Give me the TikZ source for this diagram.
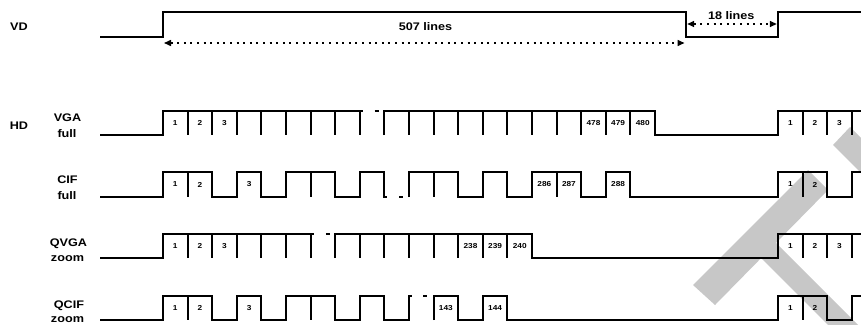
\documentclass[tikz,border=0pt]{standalone}
\usepackage{fontspec}
\setmainfont{Liberation Sans}[FakeStretch=1.15]
\usetikzlibrary{arrows.meta}
\begin{document}
\begin{tikzpicture}[x=1pt,y=-1pt,
  sig/.style={line width=2pt, line join=miter},
  wm/.style={fill=black!22, draw=none},
  lab/.style={font=\fontsize{11}{12}\selectfont\bfseries, anchor=base, inner sep=0pt},
  num/.style={font=\fontsize{7.2}{8}\selectfont\bfseries, inner sep=0pt},
  dimline/.style={line width=1.5pt, dash pattern=on 2pt off 4.6pt,
    {Triangle[length=7pt,width=6pt]}-{Triangle[length=7pt,width=6pt]}}]
\useasboundingbox (0,0) rectangle (861,324);
\clip (0,0) rectangle (861,324);
% watermark
\fill[wm] (693,285) -- (715,305) -- (828,190) -- (808,170) -- cycle;
\fill[wm] (833,145) -- (850,127) -- (870,147) -- (870,182) -- cycle;
\fill[wm] (750,247) -- (765,232) -- (863,330) -- (833,330) -- cycle;

% signal names
\node[lab] (vd) at (19,30.5) {VD};
\node[lab] (hd) at (19,129.5) {HD};
\node[lab] (vga1) at (67.5,121.7) {VGA};
\node[lab] (vga2) at (67,137.3) {full};
\node[lab] (cif1) at (67.5,183.3) {CIF};
\node[lab] (cif2) at (67,199) {full};
\node[lab] (qvga1) at (68.5,246) {QVGA};
\node[lab] (qvga2) at (67.5,261.5) {zoom};
\node[lab] (qcif1) at (69,308) {QCIF};
\node[lab] (qcif2) at (67.5,322.6) {zoom};

% VD
\draw[sig] (100,37) -- (163,37) -- (163,12) -- (686,12) -- (686,37) -- (778,37) -- (778,12) -- (861,12);
\coordinate (d1l) at (164,43);
\coordinate (d1r) at (684.5,43);
\draw[dimline] (d1l) -- (d1r);
\node[lab, anchor=center] (l507) at (425.5,26.5) {507 lines};
\coordinate (d2l) at (687.2,24);
\coordinate (d2r) at (776.8,24);
\draw[dimline] (d2l) -- (d2r);
\node[lab, anchor=center] (l18) at (731.3,15.3) {18 lines};

% VGA full
\draw[sig] (100,135) -- (163,135) -- (163,111) -- (362.8,111);
\foreach \x in {187.6,212.2,236.8,261.4,286,310.6,335.2,359.8}
  \draw[sig] (\x,111) -- (\x,135);
\draw[sig] (374.5,111) -- (379,111);
\draw[sig] (384.4,135) -- (384.4,111) -- (655,111) -- (655,135) -- (778,135) -- (778,111) -- (861,111);
\foreach \x in {409,433.6,458.2,482.8,507.4,532,556.6,581.2,605.8,630.4,802.6,827.2,851.8}
  \draw[sig] (\x,111) -- (\x,135);
\foreach \x/\t [count=\k] in {175.3/1,199.9/2,224.5/3,593.5/478,618.1/479,642.7/480,790.3/1,814.9/2,839.5/3}
  \node[num] (vgan\k) at (\x,123) {\t};

% CIF full
\draw[sig] (100,197) -- (163,197) -- (163,172) -- (212.2,172) -- (212.2,197) -- (236.8,197) -- (236.8,172)
  -- (261.4,172) -- (261.4,197) -- (286,197) -- (286,172) -- (335.2,172) -- (335.2,197) -- (359.8,197)
  -- (359.8,172) -- (384.4,172) -- (384.4,197) -- (386.6,197);
\draw[sig] (399,197) -- (403,197);
\draw[sig] (409,197) -- (409,172) -- (458.2,172) -- (458.2,197) -- (482.8,197) -- (482.8,172) -- (507.4,172)
  -- (507.4,197) -- (532,197) -- (532,172) -- (581.2,172) -- (581.2,197) -- (605.8,197) -- (605.8,172)
  -- (630.4,172) -- (630.4,197) -- (778,197) -- (778,172) -- (827.2,172) -- (827.2,197) -- (851.8,197)
  -- (851.8,172) -- (861,172);
\foreach \x in {187.6,310.6,433.6,556.6,802.6}
  \draw[sig] (\x,172) -- (\x,197);
\foreach \x/\t [count=\k] in {175.3/1,199.9/2,249.1/3,544.3/286,568.9/287,618.1/288,790.3/1,814.9/2}
  \node[num] (cifn\k) at (\x,184.5) {\t};

% QVGA zoom
\draw[sig] (100,258) -- (163,258) -- (163,234) -- (313.6,234);
\foreach \x in {187.6,212.2,236.8,261.4,286,310.6}
  \draw[sig] (\x,234) -- (\x,258);
\draw[sig] (325.8,234) -- (330,234);
\draw[sig] (335.2,258) -- (335.2,234) -- (532,234) -- (532,258) -- (778,258) -- (778,234) -- (861,234);
\foreach \x in {359.8,384.4,409,433.6,458.2,482.8,507.4,802.6,827.2,851.8}
  \draw[sig] (\x,234) -- (\x,258);
\foreach \x/\t [count=\k] in {175.3/1,199.9/2,224.5/3,470.5/238,495.1/239,519.7/240,790.3/1,814.9/2,839.5/3}
  \node[num] (qvgan\k) at (\x,246) {\t};

% QCIF zoom
\draw[sig] (100,320) -- (163,320) -- (163,296) -- (212.2,296) -- (212.2,320) -- (236.8,320) -- (236.8,296)
  -- (261.4,296) -- (261.4,320) -- (286,320) -- (286,296) -- (335.2,296) -- (335.2,320) -- (359.8,320)
  -- (359.8,296) -- (384.4,296) -- (384.4,320) -- (409,320) -- (409,296) -- (412,296);
\draw[sig] (423.3,296) -- (427.3,296);
\draw[sig] (433.6,320) -- (433.6,296) -- (458.2,296) -- (458.2,320) -- (482.8,320) -- (482.8,296)
  -- (507.4,296) -- (507.4,320) -- (778,320) -- (778,296) -- (827.2,296) -- (827.2,320) -- (851.8,320)
  -- (851.8,296) -- (861,296);
\foreach \x in {187.6,310.6,802.6}
  \draw[sig] (\x,296) -- (\x,320);
\foreach \x/\t [count=\k] in {175.3/1,199.9/2,249.1/3,445.9/143,495.1/144,790.3/1,814.9/2}
  \node[num] (qcifn\k) at (\x,308) {\t};
\end{tikzpicture}
\end{document}
